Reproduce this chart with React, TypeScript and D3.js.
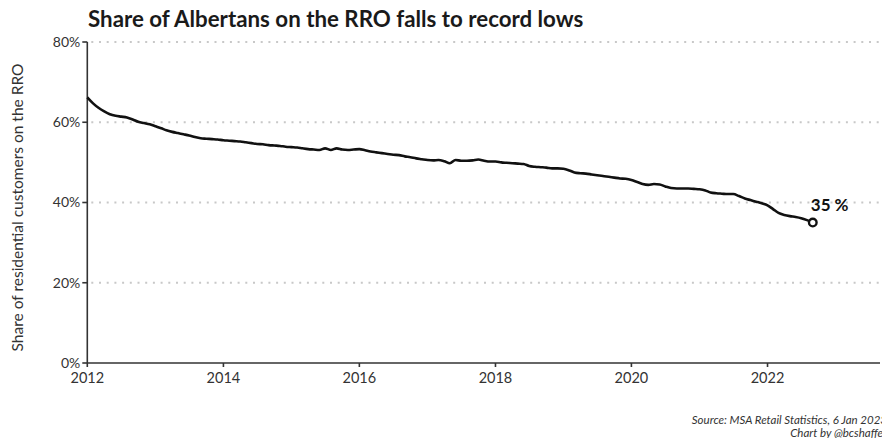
import React from "react";
import * as d3 from "d3";

const startYear = 2012;
const startMonth = 0;
const rroShare: number[] = [
  66.2, 64.7, 63.6, 62.7, 62.0, 61.6, 61.4, 61.2, 60.7, 60.1, 59.8, 59.5,
  59.0, 58.5, 58.0, 57.6, 57.3, 57.0, 56.7, 56.3, 56.0, 55.9, 55.8, 55.7,
  55.5, 55.4, 55.3, 55.2, 55.0, 54.8, 54.6, 54.5, 54.3, 54.2, 54.1, 53.9,
  53.8, 53.7, 53.5, 53.3, 53.2, 53.1, 53.5, 53.1, 53.5, 53.2, 53.1, 53.2,
  53.3, 53.0, 52.7, 52.5, 52.3, 52.1, 51.9, 51.8, 51.5, 51.3, 51.0, 50.8,
  50.6, 50.5, 50.6, 50.3, 49.8, 50.6, 50.4, 50.4, 50.5, 50.7, 50.4, 50.2,
  50.2, 50.0, 49.9, 49.8, 49.7, 49.6, 49.1, 48.9, 48.8, 48.7, 48.5, 48.5,
  48.4, 48.0, 47.5, 47.3, 47.2, 47.0, 46.8, 46.6, 46.4, 46.2, 46.0, 45.9,
  45.6, 45.1, 44.6, 44.4, 44.6, 44.5, 44.0, 43.6, 43.5, 43.5, 43.5, 43.4,
  43.3, 43.0, 42.5, 42.3, 42.2, 42.1, 42.1, 41.6, 41.0, 40.6, 40.2, 39.8,
  39.3, 38.3, 37.4, 36.9, 36.6, 36.4, 36.1, 35.6, 35.0,
];
const yTicks = [0, 20, 40, 60, 80];
const xTickYears = [2012, 2014, 2016, 2018, 2020, 2022];
const title = "Share of Albertans on the RRO falls to record lows";
const yTitle = "Share of residential customers on the RRO";
const sourceLines = ["Source: MSA Retail Statistics, 6 Jan 2023", "Chart by @bcshaffer"];

export default function App() {
  const W = 882;
  const H = 438;
  const left = 87.3;
  const right = 880;
  const top = 42;
  const bottom = 363;
  const font = "Lato, 'Open Sans', sans-serif";

  const data = rroShare.map((v, i) => ({ date: new Date(startYear, startMonth + i, 1), v }));
  const x = d3
    .scaleTime()
    .domain([new Date(2012, 0, 1), new Date(2023, 7, 28)])
    .range([left, right]);
  const y = d3.scaleLinear().domain([0, 80]).range([bottom, top]);
  const line = d3
    .line<{ date: Date; v: number }>()
    .x((d) => x(d.date))
    .y((d) => y(d.v))
    .curve(d3.curveMonotoneX);
  const last = data[data.length - 1];
  const axisColor = "#333";

  return (
    <svg
      width={W}
      height={H}
      style={{ position: "fixed", left: 0, top: 0, background: "#fff" }}
      fontFamily={font}
    >
      <rect width={W} height={H} fill="#fff" />
      <text x={88} y={27} fontSize={22.3} fontWeight={700} fill="#1a1a1a">
        {title}
      </text>
      {yTicks
        .filter((t) => t > 0)
        .map((t) => (
          <line
            key={"g" + t}
            x1={left + 4}
            x2={right}
            y1={y(t)}
            y2={y(t)}
            stroke="#c8c8c8"
            strokeWidth={2}
            strokeDasharray="2 5.7"
          />
        ))}
      <line x1={left} x2={left} y1={top} y2={bottom} stroke={axisColor} strokeWidth={1.6} />
      <line x1={left} x2={right} y1={bottom} y2={bottom} stroke={axisColor} strokeWidth={1.6} />
      {yTicks.map((t) => (
        <g key={"y" + t}>
          <line x1={left - 5} x2={left} y1={y(t)} y2={y(t)} stroke={axisColor} strokeWidth={1.6} />
          <text x={left - 7} y={y(t)} dy="0.35em" textAnchor="end" fontSize={14} fill="#333">
            {t + "%"}
          </text>
        </g>
      ))}
      {xTickYears.map((yr) => {
        const xx = x(new Date(yr, 0, 1));
        return (
          <g key={"x" + yr}>
            <line x1={xx} x2={xx} y1={bottom} y2={bottom + 4} stroke={axisColor} strokeWidth={1.6} />
            <text x={xx} y={383} textAnchor="middle" fontSize={14.5} fill="#333">
              {yr}
            </text>
          </g>
        );
      })}
      <text
        transform={`translate(23, ${(top + bottom) / 2 + 5}) rotate(-90)`}
        textAnchor="middle"
        fontSize={15.5}
        fill="#333"
      >
        {yTitle}
      </text>
      <path d={line(data) || ""} fill="none" stroke="#111" strokeWidth={2.6} strokeLinejoin="round" />
      <circle cx={x(last.date)} cy={y(last.v)} r={3.8} fill="#fff" stroke="#111" strokeWidth={2.4} />
      <text x={x(last.date) - 2} y={211} fontSize={17} fontWeight={700} fill="#111">
        {Math.round(last.v) + " %"}
      </text>
      {sourceLines.map((s, i) => (
        <text
          key={s}
          x={887}
          y={424 + i * 13}
          textAnchor="end"
          fontSize={11.5}
          fontStyle="italic"
          fill="#333"
        >
          {s}
        </text>
      ))}
    </svg>
  );
}
